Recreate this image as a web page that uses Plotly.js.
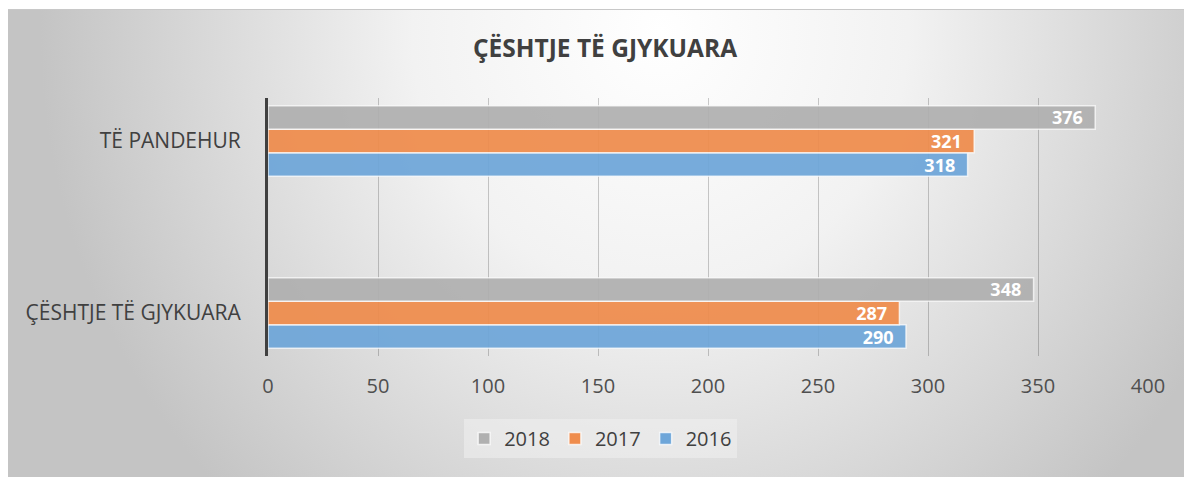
<!DOCTYPE html>
<html>
<head>
<meta charset="utf-8">
<script src="https://cdn.plot.ly/plotly-3.0.1.min.js"></script>
<style>
  html, body { margin: 0; padding: 0; width: 1184px; height: 477px; background: #ffffff; overflow: hidden; }
  #bg { position: absolute; left: 8px; top: 9px; width: 1176px; height: 468px;
        border-top: 1px solid #c8c8c8; box-sizing: border-box;
        background: radial-gradient(ellipse 620px 650px at 652px 21px, #ffffff 0%, #f2f2f2 40%, #c4c4c4 100%); }
  #chart { position: absolute; left: 0; top: 0; width: 1184px; height: 477px; }
</style>
</head>
<body>
<div id="bg"></div>
<div id="chart"></div>
<script>
const categories = ["ÇËSHTJE TË GJYKUARA", "TË PANDEHUR"];
const years = ["2016", "2017", "2018"];
const values2016 = [290, 318];
const values2017 = [287, 321];
const values2018 = [348, 376];
const xTicks = [0, 50, 100, 150, 200, 250, 300, 350, 400];
const titleText = "ÇËSHTJE TË GJYKUARA";

const seriesValues = [values2016, values2017, values2018];
const colors = ["#6ea6d9", "#ef8c4c", "#b0b0b0"];
const FONT = "Open Sans, Noto Sans, sans-serif";

const traces = years.map((yr, i) => ({
  type: "bar",
  orientation: "h",
  name: yr,
  y: categories,
  x: seriesValues[i],
  marker: { color: colors[i], opacity: 0.93, line: { color: "rgba(255,255,255,0.75)", width: 1.5 } },
  text: seriesValues[i].map(String),
  texttemplate: "%{x}\u00a0\u00a0",
  textposition: "inside",
  insidetextanchor: "end",
  constraintext: "none",
  cliponaxis: false,
  insidetextfont: { family: FONT, size: 18, color: "#ffffff", weight: "bold" },
  hoverinfo: "skip"
}));

const layout = {
  width: 1184,
  height: 477,
  paper_bgcolor: "rgba(0,0,0,0)",
  plot_bgcolor: "rgba(0,0,0,0)",
  margin: { l: 268, r: 36, t: 98, b: 121, pad: 0 },
  barmode: "group",
  bargap: 0.59,
  bargroupgap: 0,
  title: {
    text: titleText,
    font: { family: FONT, size: 24.5, color: "#404040", weight: "bold" },
    xref: "container", yref: "container",
    x: 0.511, y: 0.899, xanchor: "center", yanchor: "middle"
  },
  xaxis: {
    range: [0, 400],
    tickvals: xTicks,
    ticktext: xTicks.map(String),
    showgrid: true,
    gridcolor: "rgba(0,0,0,0.2)",
    gridwidth: 1,
    zeroline: false,
    showline: false,
    ticks: "",
    ticklabelstandoff: 16,
    tickfont: { family: FONT, size: 20, color: "#4f4f4f" },
    fixedrange: true
  },
  yaxis: {
    type: "category",
    range: [-0.25, 1.25],
    showgrid: false,
    zeroline: false,
    showline: true,
    linecolor: "#404040",
    linewidth: 3,
    layer: "above traces",
    ticks: "",
    ticklabelstandoff: 20,
    tickfont: { family: FONT, size: 21, color: "#404040" },
    fixedrange: true
  },
  showlegend: true,
  legend: {
    orientation: "h",
    traceorder: "reversed",
    x: 0.378, xanchor: "center",
    y: -0.244, yanchor: "top",
    bgcolor: "rgba(240,240,240,0.55)",
    font: { family: FONT, size: 20, color: "#404040" },
    itemclick: false, itemdoubleclick: false
  }
};

Plotly.newPlot("chart", traces, layout, { displayModeBar: false, staticPlot: true });
</script>
</body>
</html>
